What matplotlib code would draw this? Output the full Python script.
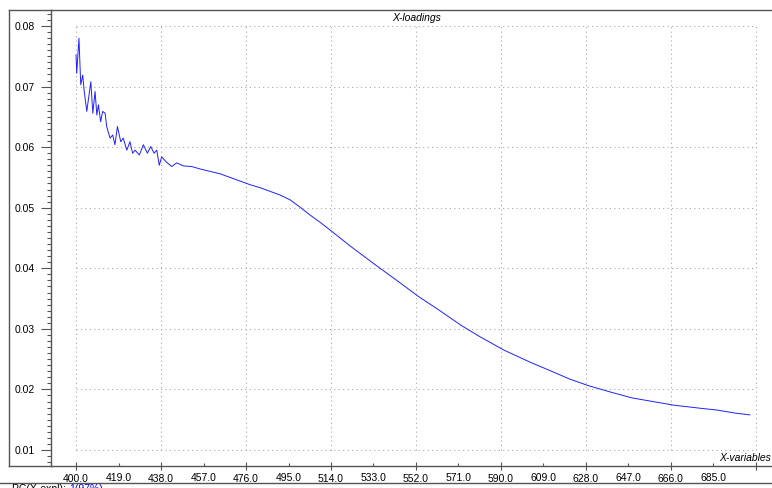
import matplotlib.pyplot as plt
from matplotlib.lines import Line2D

# loading values for PC1 against wavelength (nm)
wavelength = [400.0, 400.3, 401.3, 402.1, 403.0, 403.6, 404.8, 406.6, 407.5, 408.5,
              409.3, 410.0, 411.0, 411.9, 413.0, 413.7, 415.2, 416.4, 417.4, 418.5,
              420.0, 421.1, 422.7, 424.1, 425.3, 426.4, 428.3, 430.1, 431.9, 433.4,
              434.9, 436.1, 437.2, 438.3, 440.2, 442.8, 445.0, 448.0, 451.7, 455.4,
              464.4, 477.8, 482.3, 491.2, 495.7, 500.1, 504.6, 509.1, 514.0, 522.5,
              534.1, 544.9, 552.9, 562.7, 572.1, 580.6, 591.3, 603.0, 610.1, 620.8,
              629.3, 638.7, 648.6, 661.1, 667.3, 679.0, 686.6, 694.6, 701.3]
loading = [0.0752, 0.0722, 0.0780, 0.0703, 0.0719, 0.0694, 0.0659, 0.0708, 0.0656, 0.0692,
           0.0653, 0.0670, 0.0642, 0.0659, 0.0656, 0.0634, 0.0615, 0.0620, 0.0604, 0.0634,
           0.0609, 0.0615, 0.0595, 0.0609, 0.0590, 0.0595, 0.0587, 0.0604, 0.0590, 0.0601,
           0.0590, 0.0595, 0.0570, 0.0584, 0.0576, 0.0568, 0.0574, 0.0569, 0.0568, 0.0564,
           0.0556, 0.0538, 0.0533, 0.0521, 0.0513, 0.0501, 0.0488, 0.0476, 0.0462, 0.0437,
           0.0405, 0.0376, 0.0354, 0.0330, 0.0306, 0.0287, 0.0265, 0.0245, 0.0234, 0.0217,
           0.0206, 0.0196, 0.0186, 0.0178, 0.0174, 0.0169, 0.0166, 0.0161, 0.0158]

x_grid = [400, 438, 476, 514, 552, 590, 628, 666, 704]
x_minor = [419, 457, 495, 533, 571, 609, 647, 685]
y_ticks = [0.01, 0.02, 0.03, 0.04, 0.05, 0.06, 0.07, 0.08]

W, H = 772, 488
plt.rcParams['font.family'] = ['Liberation Sans', 'DejaVu Sans']
fig = plt.figure(figsize=(W / 100, H / 100), dpi=100)
ax = fig.add_axes([51 / W, 22 / H, (W - 51) / W, 456 / H])

ax.set_xlim(388.8, 711.2)
ax.set_ylim(0.00736, 0.08264)

frame = '#555555'
grid_kw = dict(color='#a8a8a8', linewidth=0.8, linestyle=(0, (1, 3)))
ax.hlines(y_ticks, x_grid[0], x_grid[-1], **grid_kw)
ax.vlines(x_grid, y_ticks[0], y_ticks[-1], **grid_kw)

ax.plot(wavelength, loading, color='#2020ff', linewidth=0.7)

ax.spines['right'].set_visible(False)
for s in ['left', 'bottom', 'top']:
    ax.spines[s].set_color(frame)
    ax.spines[s].set_linewidth(1.0)

ax.set_yticks(y_ticks)
ax.set_yticklabels([f'{v:.2f}' for v in y_ticks])
ax.set_yticks([i / 1000 for i in range(8, 83)], minor=True)
ax.tick_params(axis='y', which='major', direction='out', length=7.5, width=0.8,
               color=frame, labelsize=7.5, pad=4)
ax.tick_params(axis='y', which='minor', direction='out', length=3, width=0.8, color=frame)

# last grid position carries a tick but no label
ax.set_xticks(x_grid)
ax.set_xticklabels([f'{v:.1f}' for v in x_grid[:-1]] + [''])
ax.set_xticks(x_minor, minor=True)
ax.set_xticklabels([f'{v:.1f}' for v in x_minor], minor=True)
ax.tick_params(axis='x', which='major', direction='inout', length=6, width=0.8,
               color=frame, labelsize=7.5, pad=2.5)
ax.tick_params(axis='x', which='minor', direction='in', length=2, width=0.8,
               color=frame, labelsize=7.5, pad=5)

fig.text(417 / W, (H - 18) / H, 'X-loadings', fontsize=7.5,
         style='italic', ha='center', va='center')
fig.text(719 / W, (H - 458) / H, 'X-variables',
         fontsize=7.5, style='italic', ha='left', va='center')

# outer frame around the plot and the status line below it
def fline(xs, ys):
    fig.add_artist(Line2D([x / W for x in xs], [(H - y) / H for y in ys],
                          color=frame, linewidth=1.0))

fline([9, 9], [10, 466])
fline([9, 51], [10, 10])
fline([9, 51], [466, 466])
fline([0, W], [482.5, 482.5])

fig.text(12 / W, (H - 484) / H, 'PC(X-expl): ', fontsize=7.5, va='top', ha='left')
fig.text(69 / W, (H - 484) / H, '1(97%)', fontsize=7.5, va='top', ha='left',
         color='#0000ff')

fig.savefig('out.png', dpi=100)
